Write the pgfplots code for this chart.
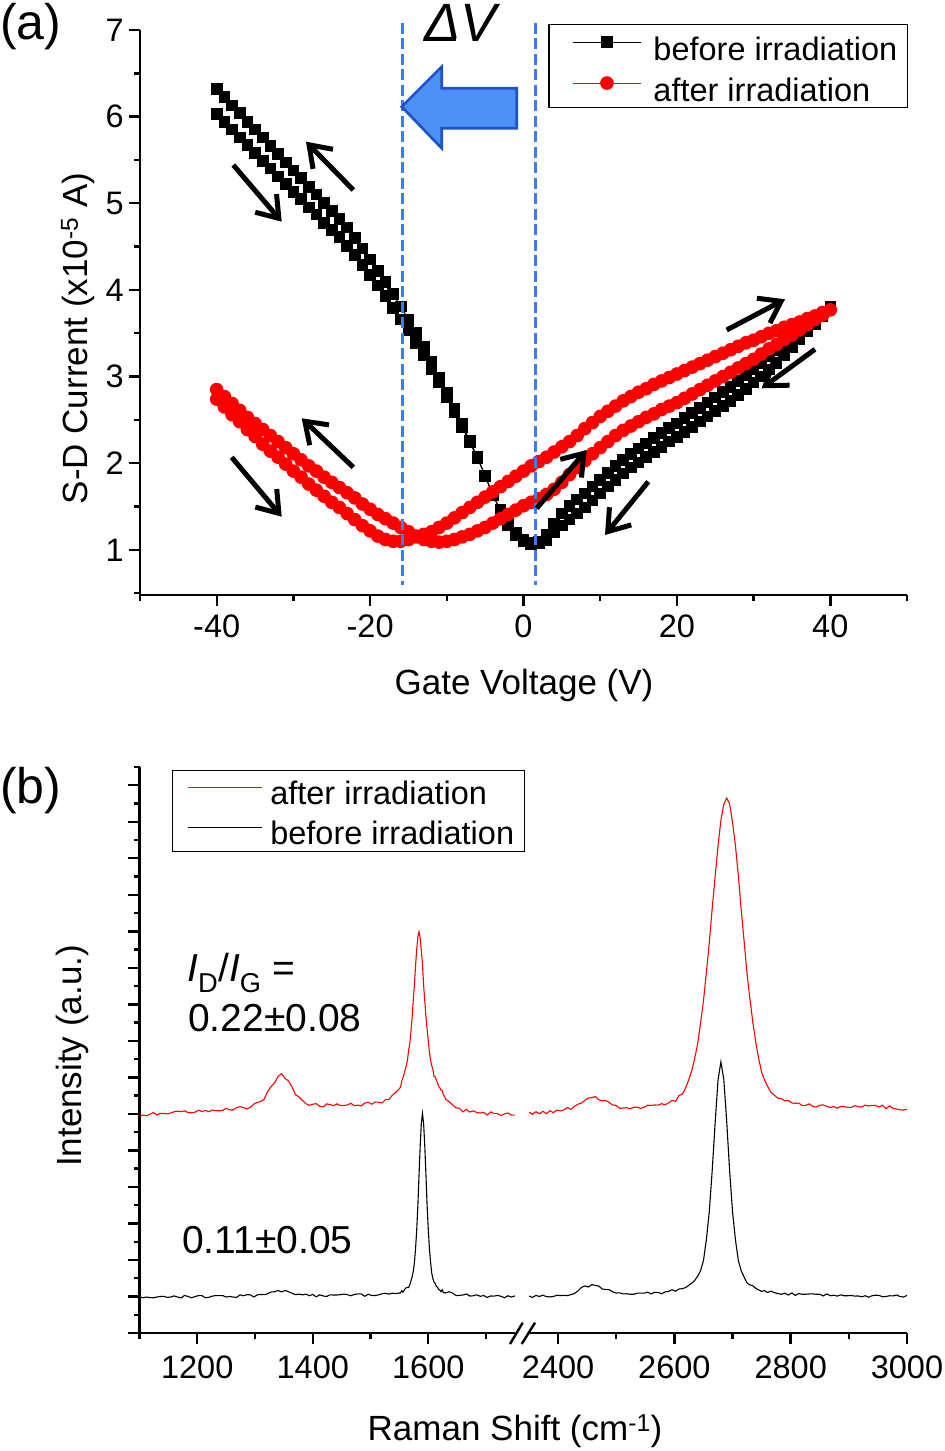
\documentclass[border=0pt]{standalone}
\usepackage{fontspec}
\setmainfont{Liberation Sans}
\usepackage{pgfplots}
\pgfplotsset{compat=1.18}
\usetikzlibrary{arrows.meta}
\definecolor{myred}{RGB}{255,0,0}
\definecolor{dashblue}{RGB}{58,125,240}
\definecolor{arrfill}{RGB}{77,145,247}
\definecolor{arrdraw}{RGB}{30,82,200}
\newcommand\tickfont{\fontsize{32.5}{38}\selectfont}
\newcommand\labfont{\fontsize{35}{42}\selectfont}
\newcommand\legfont{\fontsize{32.5}{38}\selectfont}
\pgfplotsset{
  myaxis/.style={
    scale only axis,
    axis line style={line width=2.4pt,-},
    x axis line style={-}, y axis line style={-},
    tick style={line width=2.4pt, black},
    tick align=outside,
    major tick length=11pt,
    minor tick length=6pt,
    tick label style={font=\tickfont},
    /pgf/number format/assume math mode=true,
    /pgf/number format/1000 sep={},
  }
}
\begin{document}
\begin{tikzpicture}
\path[use as bounding box] (0pt,0pt) rectangle (945pt,1451pt);
% ---------------- panel (a)
\begin{axis}[myaxis,
  at={(140pt,856pt)}, anchor=south west, width=767pt, height=565pt,
  xmin=-50, xmax=50, ymin=0.48, ymax=7,
  axis x line*=bottom, axis y line*=left,
  xtick={-40,-20,0,20,40}, minor xtick={-50,-30,-10,10,30,50},
  ytick={1,2,3,4,5,6,7}, minor ytick={0.5,1.5,2.5,3.5,4.5,5.5,6.5},
  xticklabel style={inner sep=9pt}, yticklabel style={inner sep=5pt},
  legend cell align=left,
  legend style={at={(1.0013,1.0106)}, anchor=north east, draw=black, line width=1.3pt, fill=white,
    font=\legfont, inner xsep=6pt, inner ysep=0.5pt,
    nodes={inner sep=4pt, text height=31.5pt, text depth=1.5pt},
    /tikz/every odd column/.append style={column sep=8pt}},
]
\addplot[black, line width=1pt, mark=square*, mark size=5.3pt,
  legend image code/.code={\path[draw=none] (0pt,0pt) -- (86pt,0pt);
    \draw[draw=black, line width=1pt, mark=square*, mark size=5.3pt, mark options={draw=black, fill=black},
      mark repeat=2, mark phase=2] plot coordinates {(18pt,3.6pt) (52pt,3.6pt) (86pt,3.6pt)};},
] table[row sep=\\]{
x y\\
-40 6.03\\ -39 5.94\\ -38 5.85\\ -37 5.76\\ -36 5.67\\ -35 5.58\\ -34 5.49\\ -33 5.40\\ -32 5.31\\ -31 5.22\\
-30 5.13\\ -29 5.05\\ -28 4.95\\ -27 4.87\\ -26 4.77\\ -25 4.69\\ -24 4.61\\ -23 4.51\\ -22 4.40\\ -21 4.29\\
-20 4.17\\ -19 4.05\\ -18 3.93\\ -17 3.79\\ -16 3.66\\ -15 3.53\\ -14 3.39\\ -13 3.25\\ -12 3.09\\ -11 2.93\\
-10 2.76\\ -9 2.59\\ -8 2.42\\ -7 2.24\\ -6 2.06\\ -5 1.85\\ -4 1.63\\ -3 1.45\\ -2 1.29\\ -1 1.17\\
0 1.10\\ 1 1.07\\ 2 1.09\\ 3 1.17\\ 4 1.30\\ 5 1.42\\ 6 1.51\\ 7 1.58\\ 8 1.65\\ 9 1.73\\
10 1.81\\ 11 1.89\\ 12 1.97\\ 13 2.04\\ 14 2.11\\ 15 2.17\\ 16 2.23\\ 17 2.29\\ 18 2.35\\ 19 2.41\\
20 2.46\\ 21 2.52\\ 22 2.58\\ 23 2.64\\ 24 2.70\\ 25 2.76\\ 26 2.82\\ 27 2.88\\ 28 2.95\\ 29 3.02\\
30 3.09\\ 31 3.16\\ 32 3.23\\ 33 3.30\\ 34 3.37\\ 35 3.44\\ 36 3.51\\ 37 3.58\\ 38 3.65\\ 39 3.72\\
40 3.80\\
39 3.70\\ 38 3.61\\ 37 3.52\\ 36 3.43\\ 35 3.34\\ 34 3.25\\ 33 3.16\\ 32 3.08\\ 31 3.00\\ 30 2.93\\
29 2.86\\ 28 2.79\\ 27 2.72\\ 26 2.66\\ 25 2.60\\ 24 2.54\\ 23 2.48\\ 22 2.42\\ 21 2.36\\ 20 2.30\\
19 2.25\\ 18 2.19\\ 17 2.13\\ 16 2.07\\ 15 2.01\\ 14 1.95\\ 13 1.88\\ 12 1.81\\ 11 1.73\\ 10 1.65\\
9 1.57\\ 8 1.49\\ 7 1.42\\ 6 1.35\\ 5 1.28\\ 4 1.20\\ 3 1.11\\ 2 1.08\\ 1 1.08\\ 0 1.12\\
-1 1.20\\ -2 1.31\\ -3 1.46\\ -4 1.64\\ -5 1.86\\ -6 2.07\\ -7 2.26\\ -8 2.45\\ -9 2.63\\ -10 2.81\\
-11 2.99\\ -12 3.17\\ -13 3.34\\ -14 3.50\\ -15 3.66\\ -16 3.81\\ -17 3.95\\ -18 4.09\\ -19 4.22\\ -20 4.35\\
-21 4.48\\ -22 4.60\\ -23 4.72\\ -24 4.82\\ -25 4.91\\ -26 5.00\\ -27 5.10\\ -28 5.19\\ -29 5.29\\ -30 5.38\\
-31 5.47\\ -32 5.57\\ -33 5.66\\ -34 5.76\\ -35 5.85\\ -36 5.94\\ -37 6.04\\ -38 6.13\\ -39 6.23\\ -40 6.32\\
};
\addlegendentry{before irradiation}
\addplot[myred, line width=1pt, mark=*, mark size=6.3pt,
  legend image code/.code={\path[draw=none] (0pt,0pt) -- (86pt,0pt);
    \draw[draw=myred, line width=1pt, mark=*, mark size=6.3pt, mark options={draw=myred, fill=myred},
      mark repeat=2, mark phase=2] plot coordinates {(18pt,3.6pt) (52pt,3.6pt) (86pt,3.6pt)};},
] table[row sep=\\]{
x y\\
-40 2.74\\ -39 2.65\\ -38 2.56\\ -37 2.48\\ -36 2.39\\ -35 2.31\\ -34 2.22\\ -33 2.14\\ -32 2.07\\ -31 1.99\\
-30 1.91\\ -29 1.84\\ -28 1.76\\ -27 1.69\\ -26 1.62\\ -25 1.55\\ -24 1.49\\ -23 1.42\\ -22 1.35\\ -21 1.28\\
-20 1.22\\ -19 1.16\\ -18 1.12\\ -17 1.10\\ -16 1.10\\ -15 1.12\\ -14 1.15\\ -13 1.18\\ -12 1.21\\ -11 1.26\\
-10 1.31\\ -9 1.37\\ -8 1.43\\ -7 1.49\\ -6 1.55\\ -5 1.61\\ -4 1.67\\ -3 1.73\\ -2 1.79\\ -1 1.85\\
0 1.91\\ 1 1.97\\ 2 2.02\\ 3 2.07\\ 4 2.13\\ 5 2.19\\ 6 2.25\\ 7 2.32\\ 8 2.40\\ 9 2.47\\
10 2.54\\ 11 2.60\\ 12 2.66\\ 13 2.72\\ 14 2.77\\ 15 2.82\\ 16 2.86\\ 17 2.91\\ 18 2.95\\ 19 2.99\\
20 3.03\\ 21 3.07\\ 22 3.11\\ 23 3.15\\ 24 3.19\\ 25 3.23\\ 26 3.27\\ 27 3.31\\ 28 3.35\\ 29 3.39\\
30 3.42\\ 31 3.46\\ 32 3.50\\ 33 3.53\\ 34 3.57\\ 35 3.60\\ 36 3.63\\ 37 3.67\\ 38 3.70\\ 39 3.74\\
40 3.77\\
39 3.71\\ 38 3.66\\ 37 3.60\\ 36 3.54\\ 35 3.48\\ 34 3.43\\ 33 3.37\\ 32 3.32\\ 31 3.26\\ 30 3.20\\
29 3.15\\ 28 3.10\\ 27 3.05\\ 26 3.00\\ 25 2.95\\ 24 2.90\\ 23 2.85\\ 22 2.80\\ 21 2.75\\ 20 2.70\\
19 2.66\\ 18 2.62\\ 17 2.57\\ 16 2.53\\ 15 2.48\\ 14 2.43\\ 13 2.38\\ 12 2.32\\ 11 2.25\\ 10 2.18\\
9 2.11\\ 8 2.03\\ 7 1.95\\ 6 1.87\\ 5 1.78\\ 4 1.70\\ 3 1.64\\ 2 1.59\\ 1 1.55\\ 0 1.51\\
-1 1.46\\ -2 1.41\\ -3 1.36\\ -4 1.31\\ -5 1.26\\ -6 1.22\\ -7 1.18\\ -8 1.15\\ -9 1.12\\ -10 1.10\\
-11 1.09\\ -12 1.10\\ -13 1.12\\ -14 1.16\\ -15 1.21\\ -16 1.26\\ -17 1.31\\ -18 1.36\\ -19 1.41\\ -20 1.47\\
-21 1.53\\ -22 1.60\\ -23 1.66\\ -24 1.72\\ -25 1.78\\ -26 1.84\\ -27 1.91\\ -28 1.97\\ -29 2.04\\ -30 2.11\\
-31 2.18\\ -32 2.25\\ -33 2.32\\ -34 2.39\\ -35 2.46\\ -36 2.53\\ -37 2.61\\ -38 2.69\\ -39 2.77\\ -40 2.85\\
};
\addlegendentry{after irradiation}
\end{axis}
% annotations (a)
\draw[dashblue, line width=2.7pt, dash pattern=on 11pt off 4.5pt] (402.7pt,1428.3pt) -- (402.7pt,866pt);
\draw[dashblue, line width=2.7pt, dash pattern=on 11pt off 4.5pt] (535.7pt,1428.3pt) -- (535.7pt,866pt);
\draw[arrdraw, fill=arrfill, line width=2.6pt, line join=miter]
  (401.7pt,1344.3pt) -- (441.7pt,1384.3pt) -- (441.7pt,1362.7pt) -- (516.7pt,1362.7pt)
  -- (516.7pt,1322.7pt) -- (441.7pt,1322.7pt) -- (441.7pt,1302.7pt) -- cycle;
\node[anchor=base west, inner sep=0pt, font=\fontsize{54}{60}\selectfont\itshape] at (424pt,1409pt) {ΔV};
\begin{scope}[line width=5pt, -{Straight Barb[length=20pt,width=28pt]}]
\draw (233.3pt,1286pt) -- (281.7pt,1229.3pt);
\draw (353.3pt,1261pt) -- (306pt,1309.3pt);
\draw (231.7pt,993.7pt) -- (281.7pt,934.3pt);
\draw (353.3pt,983.7pt) -- (301.7pt,1032.7pt);
\draw (536.7pt,942.7pt) -- (586.7pt,1001pt);
\draw (648.3pt,969.3pt) -- (605pt,916pt);
\draw (726.7pt,1121pt) -- (785pt,1151.7pt);
\draw (815pt,1101.7pt) -- (761.7pt,1062.7pt);
\end{scope}
\node[anchor=base west, inner sep=0pt, font=\fontsize{50}{60}\selectfont] at (0pt,1411.5pt) {(a)};
\node[anchor=base, inner sep=0pt, font=\labfont] at (524pt,756pt) {Gate Voltage (V)};
\node[anchor=base, rotate=90, inner sep=0pt, font=\labfont] at (87pt,1112.5pt) {S-D Current (x10\textsuperscript{-5} A)};
% ---------------- panel (b), left part
\begin{axis}[myaxis,
  at={(139.5pt,118pt)}, anchor=south west, width=375.4pt, height=566pt,
  xmin=1100, xmax=1750, ymin=0, ymax=31,
  axis x line*=bottom, axis y line*=left,
  xtick={1200,1400,1600}, minor xtick={1100,1300,1500,1700},
  ytick={0,2,...,30}, minor ytick={1,3,...,31},
  yticklabels={}, xticklabel style={inner sep=12pt},
  legend cell align=left,
  legend style={at={(0.0866,0.9947)}, anchor=north west, draw=black, line width=1.3pt, fill=white,
    font=\legfont, inner xsep=6pt, inner ysep=0.5pt,
    nodes={inner sep=4pt, text height=29.5pt, text depth=2.5pt},
    /tikz/every odd column/.append style={column sep=4pt}},
]
\addplot[myred, line width=1.1pt,
  legend image code/.code={\path[draw=none] (0pt,0pt) -- (83pt,0pt); \draw[draw=myred, line width=1.2pt] (9pt,3.6pt) -- (83pt,3.6pt);},
] table[row sep=\\]{
x y\\
1100 11.87\\ 1106 11.94\\ 1112 11.89\\ 1118 11.98\\ 1124 12.07\\ 1130 11.94\\ 1136 12.03\\ 1142 12.02\\ 1148 12.00\\ 1154 12.05\\
1160 12.12\\ 1166 12.15\\ 1172 12.12\\ 1178 12.17\\ 1184 12.07\\ 1190 12.06\\ 1196 12.09\\ 1202 12.20\\ 1208 12.13\\ 1214 12.19\\
1220 12.12\\ 1226 12.21\\ 1232 12.18\\ 1238 12.17\\ 1244 12.19\\ 1250 12.30\\ 1256 12.22\\ 1262 12.21\\ 1268 12.34\\ 1274 12.40\\
1280 12.35\\ 1286 12.27\\ 1292 12.36\\ 1298 12.54\\ 1304 12.63\\ 1310 12.68\\ 1316 12.81\\ 1322 13.23\\ 1328 13.50\\ 1334 13.71\\
1340 14.05\\ 1346 14.20\\ 1352 13.95\\ 1358 13.80\\ 1364 13.48\\ 1370 13.06\\ 1376 12.93\\ 1382 12.74\\ 1388 12.56\\ 1394 12.47\\
1400 12.53\\ 1406 12.56\\ 1412 12.42\\ 1418 12.38\\ 1424 12.55\\ 1430 12.51\\ 1436 12.45\\ 1442 12.55\\ 1448 12.45\\ 1454 12.46\\
1460 12.49\\ 1466 12.58\\ 1472 12.45\\ 1478 12.48\\ 1484 12.44\\ 1490 12.59\\ 1496 12.64\\ 1502 12.53\\ 1508 12.65\\ 1514 12.64\\
1520 12.60\\ 1526 12.78\\ 1532 12.79\\ 1538 13.03\\ 1544 13.18\\
1550 13.38\\ 1552 13.47\\ 1554 13.78\\ 1556 13.97\\ 1558 14.17\\ 1560 14.40\\ 1562 14.66\\ 1564 14.94\\ 1566 15.49\\ 1568 15.84\\
1570 16.51\\ 1572 17.27\\ 1574 18.22\\ 1576 19.06\\ 1578 20.13\\ 1580 21.01\\ 1582 21.70\\ 1584 21.98\\ 1586 21.62\\ 1588 20.96\\
1590 20.17\\ 1592 19.03\\ 1594 18.19\\ 1596 17.34\\ 1598 16.64\\ 1600 16.01\\ 1602 15.37\\ 1604 14.93\\ 1606 14.65\\ 1608 14.44\\
1610 14.05\\ 1612 14.03\\ 1614 13.84\\ 1616 13.70\\ 1618 13.50\\ 1620 13.43\\ 1622 13.30\\ 1624 13.30\\ 1626 13.06\\ 1628 12.97\\
1630 12.81\\
1636 12.67\\ 1642 12.50\\ 1648 12.33\\ 1654 12.31\\ 1660 12.11\\ 1666 12.25\\ 1672 12.10\\ 1678 12.17\\ 1684 12.07\\ 1690 12.05\\
1696 12.08\\ 1702 11.94\\ 1708 12.11\\ 1714 12.02\\ 1720 12.01\\ 1726 11.91\\ 1732 12.00\\ 1738 12.05\\ 1744 11.93\\ 1750 11.93\\
1754 11.94\\
};
\addlegendentry{after irradiation}
\addplot[black, line width=1.1pt,
  legend image code/.code={\path[draw=none] (0pt,0pt) -- (83pt,0pt); \draw[draw=black, line width=1.2pt] (9pt,3.6pt) -- (83pt,3.6pt);},
] table[row sep=\\]{
x y\\
1100 1.97\\ 1106 1.93\\ 1112 1.97\\ 1118 1.94\\ 1124 1.93\\ 1130 1.97\\ 1136 2.00\\ 1142 2.01\\ 1148 1.95\\ 1154 1.97\\
1160 2.03\\ 1166 1.97\\ 1172 1.92\\ 1178 2.06\\ 1184 2.00\\ 1190 1.93\\ 1196 1.99\\ 1202 2.05\\ 1208 2.05\\ 1214 1.93\\
1220 1.95\\ 1226 2.02\\ 1232 2.05\\ 1238 2.05\\ 1244 2.05\\ 1250 1.97\\ 1256 2.00\\ 1262 1.97\\ 1268 1.95\\ 1274 2.09\\
1280 2.04\\ 1286 2.10\\ 1292 2.09\\ 1298 1.97\\ 1304 2.09\\ 1310 2.11\\ 1316 2.10\\ 1322 2.15\\ 1328 2.25\\ 1334 2.26\\
1340 2.33\\ 1346 2.25\\ 1352 2.33\\ 1358 2.26\\ 1364 2.18\\ 1370 2.10\\ 1376 2.13\\ 1382 2.09\\ 1388 2.13\\ 1394 2.04\\
1400 2.11\\ 1406 1.98\\ 1412 2.09\\ 1418 2.03\\ 1424 2.00\\ 1430 2.09\\ 1436 2.08\\ 1442 2.08\\ 1448 2.10\\ 1454 2.13\\
1460 2.10\\ 1466 2.04\\ 1472 2.11\\ 1478 2.14\\ 1484 2.14\\ 1490 2.01\\ 1496 2.12\\ 1502 2.06\\ 1508 2.05\\ 1514 2.09\\
1520 2.15\\ 1526 2.17\\ 1532 2.13\\ 1538 2.18\\ 1544 2.16\\
1550 2.19\\ 1552 2.19\\ 1554 2.32\\ 1556 2.24\\ 1558 2.32\\ 1560 2.43\\ 1562 2.48\\ 1564 2.50\\ 1566 2.49\\ 1568 2.64\\
1570 2.86\\ 1572 3.06\\ 1574 3.36\\ 1576 3.85\\ 1578 4.62\\ 1580 5.65\\ 1582 6.99\\ 1584 8.65\\ 1586 10.23\\ 1588 11.48\\
1590 12.02\\ 1592 11.44\\ 1594 10.22\\ 1596 8.65\\ 1598 6.99\\ 1600 5.71\\ 1602 4.61\\ 1604 3.88\\ 1606 3.28\\ 1608 2.97\\
1610 2.79\\ 1612 2.71\\ 1614 2.55\\ 1616 2.51\\ 1618 2.38\\ 1620 2.35\\ 1622 2.26\\ 1624 2.37\\ 1626 2.22\\ 1628 2.21\\
1630 2.19\\
1636 2.26\\ 1642 2.19\\ 1648 2.05\\ 1654 2.06\\ 1660 2.08\\ 1666 2.14\\ 1672 2.02\\ 1678 2.04\\ 1684 2.09\\ 1690 2.01\\
1696 2.05\\ 1702 1.95\\ 1708 2.03\\ 1714 2.02\\ 1720 2.06\\ 1726 2.01\\ 1732 1.93\\ 1738 2.04\\ 1744 1.97\\ 1750 2.03\\
1754 1.95\\
};
\addlegendentry{before irradiation}
\end{axis}
% ---------------- panel (b), right part
\begin{axis}[myaxis,
  at={(529pt,118pt)}, anchor=south west, width=378pt, height=566pt,
  xmin=2350, xmax=3000, ymin=0, ymax=31,
  axis x line*=bottom, axis y line=none, ytick=\empty,
  xtick={2400,2600,2800,3000}, minor xtick={2500,2700,2900},
  xticklabel style={inner sep=12pt},
]
\addplot[myred, line width=1.1pt] table[row sep=\\]{
x y\\
2350 12.09\\ 2356 11.98\\ 2362 12.12\\ 2368 12.01\\ 2374 12.14\\ 2380 12.01\\ 2386 12.17\\ 2392 12.07\\ 2398 12.21\\ 2404 12.16\\
2410 12.22\\ 2416 12.35\\ 2422 12.25\\ 2428 12.41\\ 2434 12.53\\ 2440 12.59\\ 2446 12.74\\ 2452 12.87\\ 2458 12.89\\ 2464 12.95\\
2470 12.77\\ 2476 12.72\\ 2482 12.73\\ 2488 12.62\\ 2494 12.48\\ 2500 12.47\\ 2506 12.30\\ 2512 12.32\\ 2518 12.34\\ 2524 12.28\\
2530 12.36\\ 2536 12.37\\ 2542 12.30\\ 2548 12.36\\ 2554 12.48\\ 2560 12.46\\ 2566 12.49\\ 2572 12.48\\ 2578 12.56\\ 2584 12.50\\
2590 12.60\\ 2596 12.74\\ 2602 12.69\\ 2608 13.01\\ 2614 13.09\\ 2620 13.47\\
2625 13.90\\ 2630 14.39\\ 2635 15.06\\ 2640 15.83\\ 2645 16.99\\ 2650 18.19\\ 2655 19.74\\ 2660 21.37\\ 2665 23.25\\ 2670 24.99\\
2675 26.65\\ 2680 28.09\\ 2685 28.96\\ 2690 29.30\\ 2695 28.97\\ 2700 27.97\\ 2705 26.69\\ 2710 25.04\\ 2715 23.15\\ 2720 21.42\\
2725 19.65\\ 2730 18.28\\ 2735 16.99\\ 2740 15.91\\ 2745 15.01\\ 2750 14.29\\ 2755 13.86\\ 2760 13.53\\
2766 13.18\\ 2772 13.02\\ 2778 12.86\\ 2784 12.83\\ 2790 12.71\\ 2796 12.74\\ 2802 12.60\\ 2808 12.58\\ 2814 12.59\\ 2820 12.45\\
2826 12.47\\ 2832 12.55\\ 2838 12.41\\ 2844 12.37\\ 2850 12.48\\ 2856 12.49\\ 2862 12.42\\ 2868 12.35\\ 2874 12.40\\ 2880 12.31\\
2886 12.41\\ 2892 12.40\\ 2898 12.36\\ 2904 12.35\\ 2910 12.45\\ 2916 12.40\\ 2922 12.37\\ 2928 12.48\\ 2934 12.43\\ 2940 12.47\\
2946 12.46\\ 2952 12.38\\ 2958 12.47\\ 2964 12.29\\ 2970 12.44\\ 2976 12.30\\ 2982 12.27\\ 2988 12.22\\ 2994 12.21\\ 3000 12.26\\
};
\addplot[black, line width=1.1pt] table[row sep=\\]{
x y\\
2350 2.02\\ 2356 1.95\\ 2362 2.06\\ 2368 2.00\\ 2374 2.07\\ 2380 1.99\\ 2386 1.98\\ 2392 2.00\\ 2398 2.07\\ 2404 2.05\\
2410 2.06\\ 2416 2.05\\ 2422 2.10\\ 2428 2.16\\ 2434 2.30\\ 2440 2.49\\ 2446 2.58\\ 2452 2.52\\ 2458 2.65\\ 2464 2.61\\
2470 2.57\\ 2476 2.41\\ 2482 2.38\\ 2488 2.37\\ 2494 2.25\\ 2500 2.19\\ 2506 2.20\\ 2512 2.14\\ 2518 2.15\\ 2524 2.12\\
2530 2.12\\ 2536 2.18\\ 2542 2.18\\ 2548 2.18\\ 2554 2.24\\ 2560 2.14\\ 2566 2.23\\ 2572 2.22\\ 2578 2.15\\ 2584 2.25\\
2590 2.28\\ 2596 2.37\\ 2602 2.29\\ 2608 2.41\\ 2614 2.43\\ 2620 2.50\\
2625 2.62\\ 2630 2.73\\ 2635 2.88\\ 2640 3.11\\ 2645 3.41\\ 2650 3.97\\ 2655 5.11\\ 2660 6.64\\ 2665 8.88\\ 2670 11.47\\
2675 13.85\\ 2680 14.85\\ 2685 13.88\\ 2690 11.57\\ 2695 8.89\\ 2700 6.64\\ 2705 5.11\\ 2710 3.96\\ 2715 3.40\\ 2720 3.06\\
2725 2.74\\ 2730 2.63\\ 2735 2.59\\ 2740 2.44\\ 2745 2.36\\ 2750 2.28\\ 2755 2.32\\ 2760 2.22\\
2766 2.29\\ 2772 2.21\\ 2778 2.16\\ 2784 2.12\\ 2790 2.18\\ 2796 2.08\\ 2802 2.19\\ 2808 2.06\\ 2814 2.16\\ 2820 2.12\\
2826 2.12\\ 2832 2.14\\ 2838 2.14\\ 2844 2.12\\ 2850 2.12\\ 2856 2.03\\ 2862 2.14\\ 2868 2.04\\ 2874 2.07\\ 2880 2.02\\
2886 2.09\\ 2892 2.04\\ 2898 2.04\\ 2904 2.06\\ 2910 2.02\\ 2916 2.03\\ 2922 1.98\\ 2928 2.04\\ 2934 1.96\\ 2940 2.04\\
2946 2.07\\ 2952 2.06\\ 2958 1.98\\ 2964 2.00\\ 2970 2.04\\ 2976 2.03\\ 2982 2.08\\ 2988 2.00\\ 2994 1.97\\ 3000 2.06\\
};
\end{axis}
% break marks and labels (b)
\draw[line width=2.4pt] (510pt,107pt) -- (522.7pt,128.3pt);
\draw[line width=2.4pt] (521.7pt,107pt) -- (535pt,128.3pt);
\node[anchor=base west, inner sep=0pt, font=\fontsize{50}{60}\selectfont] at (0pt,647pt) {(b)};
\node[anchor=base, inner sep=0pt, font=\labfont] at (515pt,10pt) {Raman Shift (cm\textsuperscript{-1})};
\node[anchor=base, rotate=90, inner sep=0pt, font=\labfont] at (81pt,395pt) {Intensity (a.u.)};
\node[anchor=base west, inner sep=0pt, font=\fontsize{39}{46}\selectfont] at (187pt,469pt) {\textit{I}\textsubscript{D}/\textit{I}\textsubscript{G} =};
\node[anchor=base west, inner sep=0pt, font=\fontsize{39}{46}\selectfont] at (188pt,419pt) {0.22±0.08};
\node[anchor=base west, inner sep=0pt, font=\fontsize{39}{46}\selectfont] at (182pt,197pt) {0.11±0.05};
\end{tikzpicture}
\end{document}
